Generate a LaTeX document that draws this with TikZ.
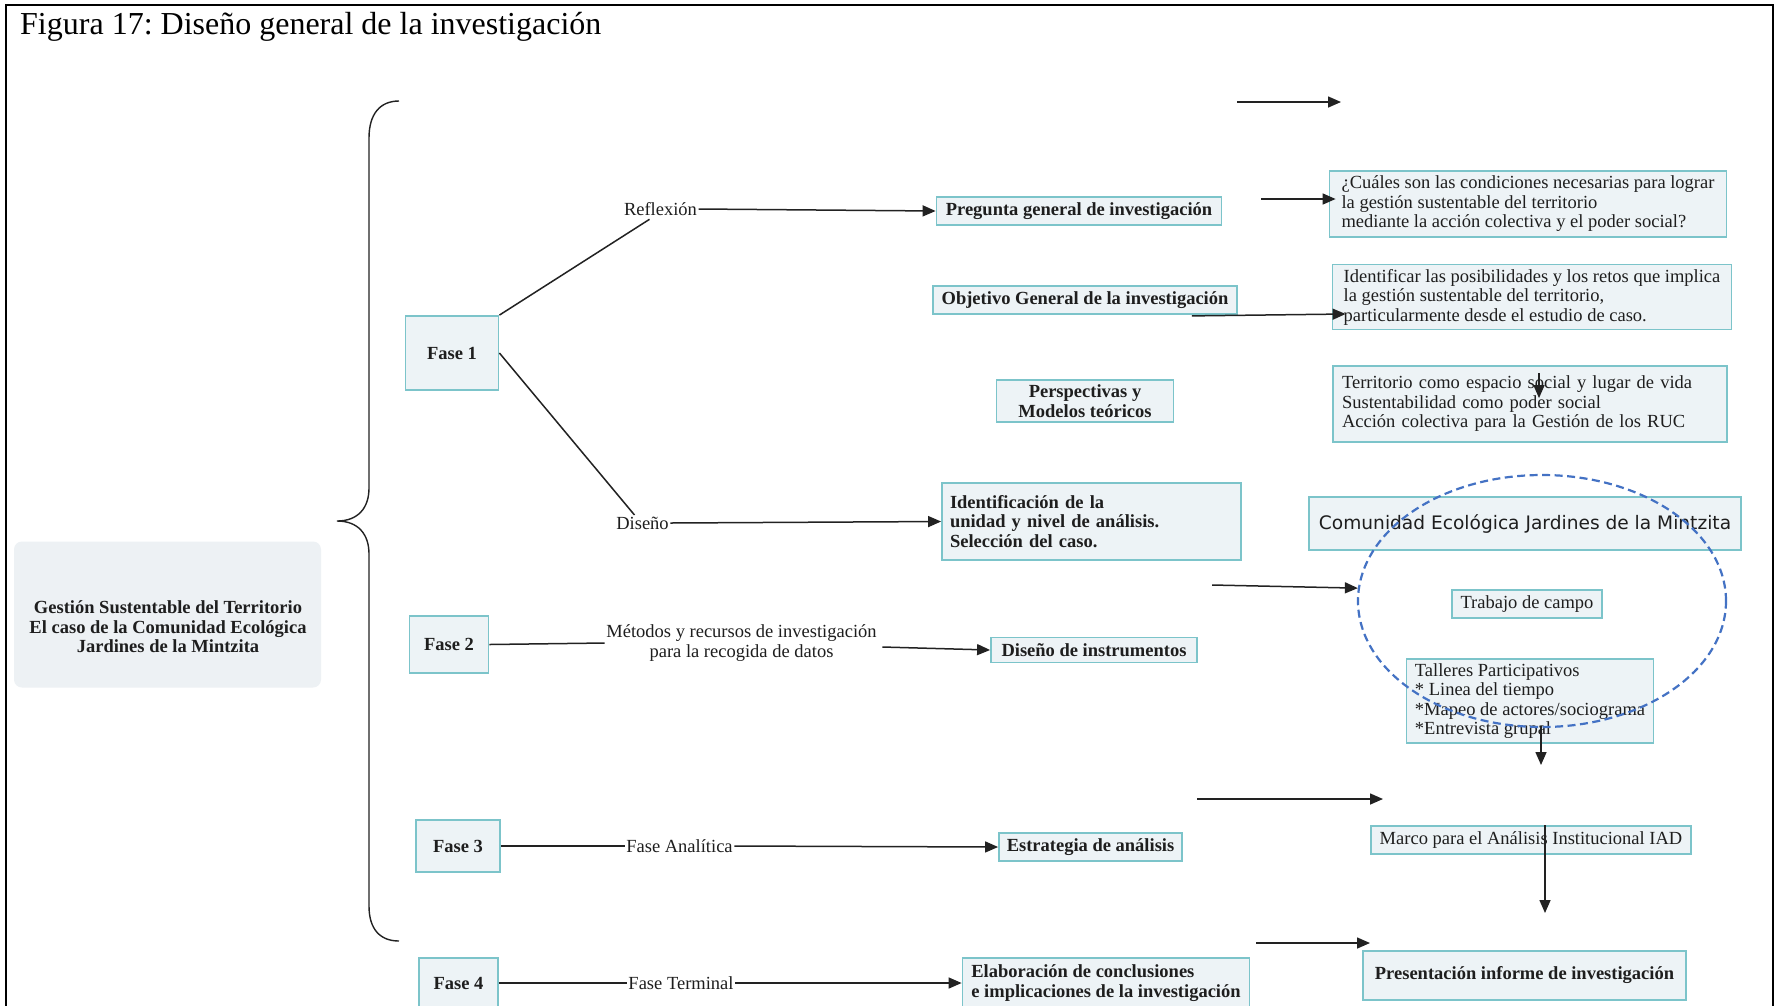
\documentclass[tikz,border=0pt]{standalone}
\usepackage{fontspec}
\setmainfont{Liberation Serif}
\newfontfamily\sansf{DejaVu Sans}
\usetikzlibrary{arrows.meta,shapes.geometric}
\definecolor{bord}{HTML}{7CC4CA}
\definecolor{boxf}{HTML}{EDF3F6}
\definecolor{mainf}{HTML}{EDF1F4}
\definecolor{txt}{HTML}{1E1E1E}
\definecolor{lnc}{HTML}{222222}
\definecolor{ell}{HTML}{4472C4}
\frenchspacing
\begin{document}
\begin{tikzpicture}[x=1pt,y=-1pt,
  every node/.style={text=txt},
  bx/.style={draw=bord, fill=boxf, line width=1.8pt, inner sep=0pt, align=center,
     font=\fontsize{18.5}{19.5}\selectfont},
  bb/.style={bx, font=\fontsize{18.5}{19.5}\selectfont\bfseries},
  lbl/.style={inner sep=1.5pt, align=center, font=\fontsize{18.5}{19.5}\selectfont},
  ln/.style={line width=1.5pt, draw=lnc},
  arr/.style={ln, -{Triangle[length=13pt,width=11pt]}},
]
\fill[white] (0,0) rectangle (1779,1005);
\useasboundingbox (0,0) rectangle (1779,1005);
% frame
\draw[line width=2.4pt, black] (6,1010) -- (6,5) -- (1773,5) -- (1773,1010);
% title
\node[anchor=west, inner sep=0pt, font=\fontsize{32}{36}\selectfont, text=black] (title) at (20,27) {Figura 17: Diseño general de la investigación};
% brace
\draw[line width=1.4pt, lnc] (399,101) .. controls (380,101) and (369,114) .. (369,138)
  -- (369,488) .. controls (369,508) and (358,521) .. (337,521)
  .. controls (358,521) and (369,534) .. (369,554)
  -- (369,906) .. controls (369,929) and (380,941) .. (399,941);
% main box
\node[fill=mainf, rounded corners=8pt, minimum width=307pt, minimum height=146pt, inner sep=0pt] (main) at (167.5,614.5) {};
\node[inner sep=0pt, align=center, font=\fontsize{18.5}{19.5}\selectfont\bfseries] (maintxt) at (168,627) {Gestión Sustentable del Territorio\\El caso de la Comunidad Ecológica\\Jardines de la Mintzita};
% phases
\node[bb, minimum width=93pt, minimum height=74pt] (f1) at (452,353) {Fase 1};
\node[bb, minimum width=79pt, minimum height=57pt] (f2) at (449,644.5) {Fase 2};
\node[bb, minimum width=84pt, minimum height=52pt] (f3) at (458,846) {Fase 3};
\node[bb, minimum width=79pt, minimum height=50pt] (f4) at (458.5,983) {Fase 4};
% middle column boxes
\node[bb, minimum width=285pt, minimum height=28pt] (preg) at (1079,211) {Pregunta general de investigación};
\node[bb, minimum width=304pt, minimum height=28pt] (obj) at (1085,300) {Objetivo General de la investigación};
\node[bb, minimum width=177pt, minimum height=42pt] (persp) at (1085,401) {Perspectivas y\\Modelos teóricos};
\node[bb, minimum width=299pt, minimum height=77pt, text width=283pt, align=left] (ident) at (1091.5,521.5) {Identificación de la\\unidad y nivel de análisis.\\Selección del caso.};
\node[bb, minimum width=206pt, minimum height=25pt] (disins) at (1094,650) {Diseño de instrumentos};
\node[bb, minimum width=183pt, minimum height=28pt] (estr) at (1090.5,847) {Estrategia de análisis};
\node[bb, minimum width=287pt, minimum height=50pt, align=left] (elab) at (1106,983) {Elaboración de conclusiones\\e implicaciones de la investigación};
% labels
\node[lbl] (refl) at (660.5,209) {Reflexión};
\node[lbl] (dis) at (642.5,523) {Diseño};
\node[lbl] (met) at (741.5,643) {Métodos y recursos de investigación\\para la recogida de datos};
\node[lbl] (fa) at (679.5,846) {Fase Analítica};
\node[lbl] (ft) at (681,983) {Fase Terminal};
% right column boxes
\node[bx, minimum width=397pt, minimum height=66pt, align=left] (cual) at (1528,204) {¿Cuáles son las condiciones necesarias para lograr\\la gestión sustentable del territorio\\mediante la acción colectiva y el poder social?};
\node[bx, minimum width=399pt, minimum height=65pt, align=left] (ident2) at (1532,297) {Identificar las posibilidades y los retos que implica\\la gestión sustentable del territorio,\\particularmente desde el estudio de caso.};
\node[bx, minimum width=394pt, minimum height=76pt, text width=376pt, align=left] (terr) at (1530,404) {Territorio como espacio social y lugar de vida\\Sustentabilidad como poder social\\Acción colectiva para la Gestión de los RUC};
\node[bx, minimum width=432pt, minimum height=53pt, font=\sansf\fontsize{18.6}{20}\selectfont] (com) at (1525,523.5) {Comunidad Ecológica Jardines de la Mintzita};
\node[bx, minimum width=150pt, minimum height=28pt] (trab) at (1527,604) {Trabajo de campo};
\node[bx, minimum width=247pt, minimum height=84pt, align=left] (tall) at (1530,701) {Talleres Participativos\\{}* Linea del tiempo\\{}*Mapeo de actores/sociograma\\{}*Entrevista grupal};
\node[bx, minimum width=320pt, minimum height=28pt] (marco) at (1531,840) {Marco para el Análisis Institucional IAD};
\node[bb, minimum width=323pt, minimum height=49pt] (pres) at (1524.5,975.5) {Presentación informe de investigación};
% dashed ellipse
\node[ellipse, draw=ell, line width=2.2pt, dash pattern=on 8pt off 4.5pt, minimum width=368pt, minimum height=252pt, inner sep=0pt] (circ) at (1542,601) {};
% phase 1 connectors
\draw[ln] (f1.north east) -- ([xshift=-11pt,yshift=-2pt]refl.south);
\draw[arr] (refl.east) -- (preg.west);
\draw[ln] (f1.east) -- ([xshift=-8pt]dis.north);
\draw[arr] (dis.east) -- (ident.west);
% phase 2-4 connectors
\draw[ln] (f2.east) -- (met.west);
\draw[arr] ([xshift=4pt,yshift=-4pt]met.east) -- (disins.west);
\draw[ln] (f3.east) -- (fa.west);
\draw[arr] (fa.east) -- (estr.west);
\draw[ln] (f4.east) -- (ft.west);
\draw[arr] (ft.east) -- (elab.west);
% free arrows right side
\coordinate (a1s) at (1237,102); \coordinate (a1e) at (1341,102);
\draw[arr] (a1s) -- (a1e);
\coordinate (a2s) at (1261,199);
\draw[arr] (a2s) -- ([xshift=7pt,yshift=5pt]cual.west);
\draw[arr] ([xshift=-46pt,yshift=-1pt]obj.south east) -- ([xshift=14pt,yshift=-17pt]ident2.west);
\draw[arr] ([xshift=9pt,yshift=-8pt]terr.north) -- ([xshift=9pt,yshift=-33pt]terr.north);
\coordinate (a4s) at (1212,585);
\draw[arr] (a4s) -- (circ.176);
\coordinate (a5e) at (1541,765);
\draw[arr] ([xshift=11pt,yshift=18pt]tall.south) -- (a5e);
\coordinate (a6s) at (1197,799); \coordinate (a6e) at (1383,799);
\draw[arr] (a6s) -- (a6e);
\coordinate (a7e) at (1545,913);
\draw[arr] ([xshift=14pt,yshift=0pt]marco.north) -- (a7e);
\coordinate (a8s) at (1256,943); \coordinate (a8e) at (1370,943);
\draw[arr] (a8s) -- (a8e);
\end{tikzpicture}
\end{document}
